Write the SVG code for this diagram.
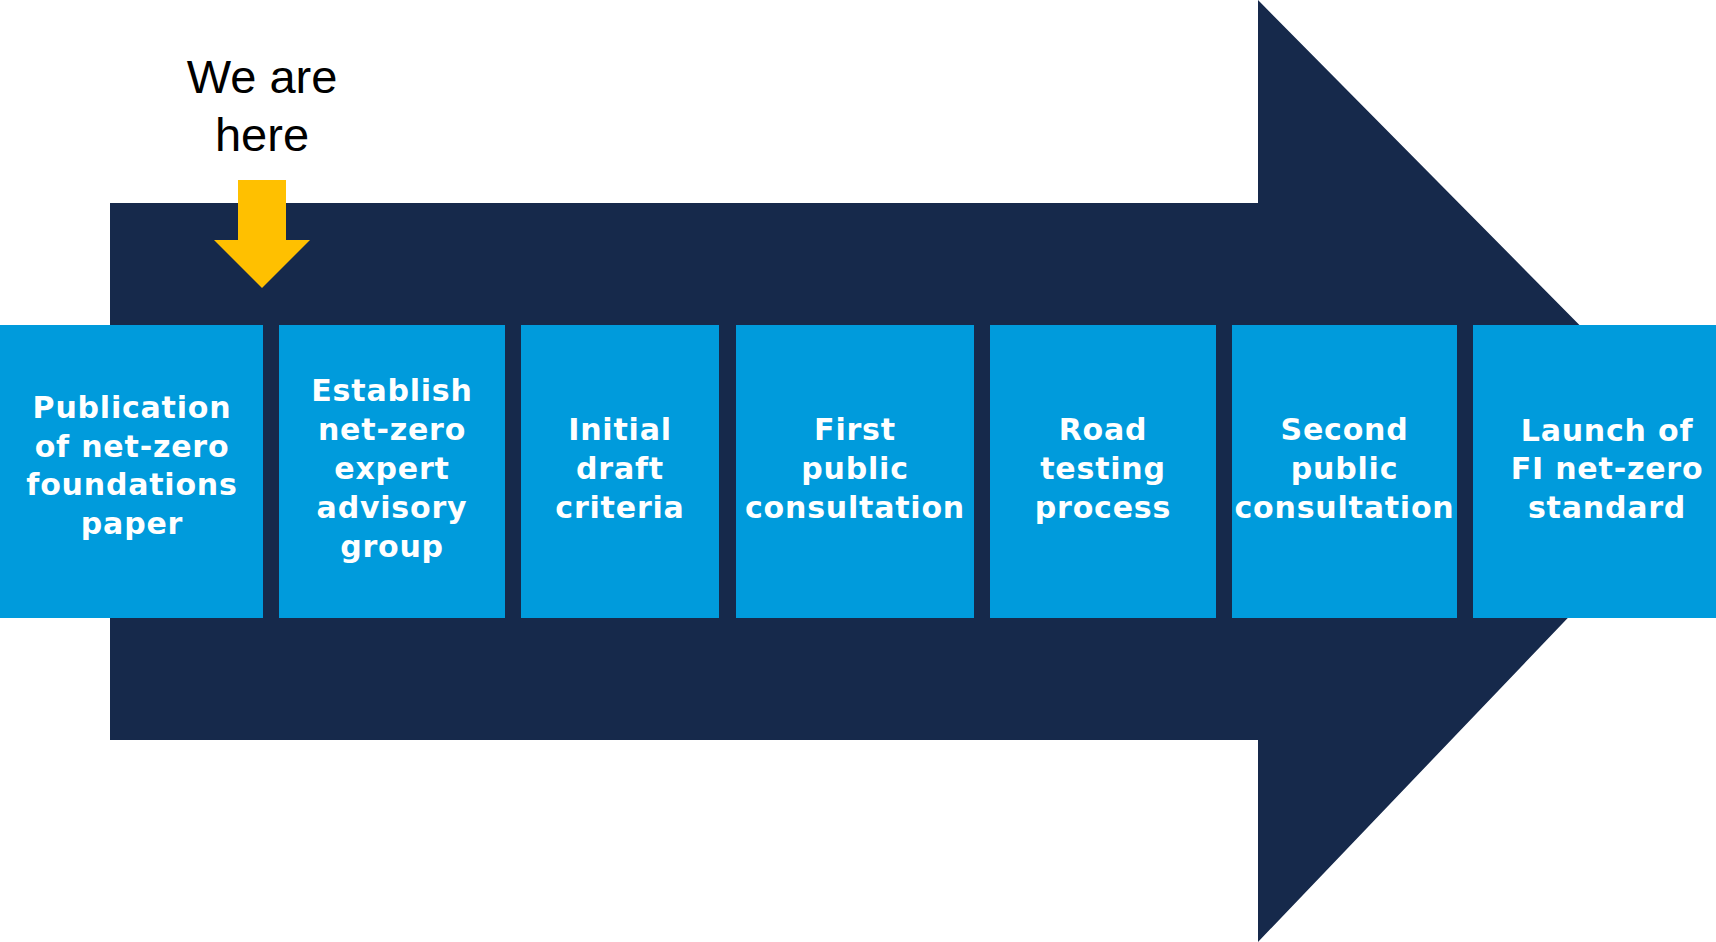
<svg xmlns="http://www.w3.org/2000/svg" width="1716" height="942" viewBox="0 0 1716 942">
  <style>
    .box { fill: #009bdc; }
    .lbl { font-family: "DejaVu Sans", "Liberation Sans", sans-serif; font-weight: bold; font-size: 30px; letter-spacing: 0.8px; fill: #ffffff; text-anchor: middle; }
    .note { font-family: "Liberation Sans", Arial, sans-serif; font-size: 47px; fill: #000000; text-anchor: middle; }
  </style>
  <rect x="0" y="0" width="1716" height="942" fill="#ffffff"/>
  <g id="big-arrow">
    <polygon points="110,203 1258,203 1258,0 1716,463 1258,942 1258,740 110,740" fill="#16294b"/>
  </g>
  <g id="marker-label">
    <text class="note" x="262" y="93">We are</text>
    <text class="note" x="262" y="151">here</text>
  </g>
  <g id="connectors">
    <polygon points="238,180 286,180 286,240 310,240 262,288 214,240 238,240" fill="#ffc000"/>
  </g>
  <g id="step1">
    <rect class="box" x="0" y="325" width="263" height="293"/>
    <text class="lbl" x="132" y="418">Publication</text>
    <text class="lbl" x="132" y="456.5">of net-zero</text>
    <text class="lbl" x="132" y="495">foundations</text>
    <text class="lbl" x="132" y="533.5">paper</text>
  </g>
  <g id="step2">
    <rect class="box" x="279" y="325" width="226" height="293"/>
    <text class="lbl" x="392" y="401">Establish</text>
    <text class="lbl" x="392" y="440">net-zero</text>
    <text class="lbl" x="392" y="479">expert</text>
    <text class="lbl" x="392" y="518">advisory</text>
    <text class="lbl" x="392" y="557">group</text>
  </g>
  <g id="step3">
    <rect class="box" x="521" y="325" width="198" height="293"/>
    <text class="lbl" x="620" y="440">Initial</text>
    <text class="lbl" x="620" y="479">draft</text>
    <text class="lbl" x="620" y="518">criteria</text>
  </g>
  <g id="step4">
    <rect class="box" x="736" y="325" width="238" height="293"/>
    <text class="lbl" x="855" y="440">First</text>
    <text class="lbl" x="855" y="479">public</text>
    <text class="lbl" x="855" y="518">consultation</text>
  </g>
  <g id="step5">
    <rect class="box" x="990" y="325" width="226" height="293"/>
    <text class="lbl" x="1103" y="440">Road</text>
    <text class="lbl" x="1103" y="479">testing</text>
    <text class="lbl" x="1103" y="518">process</text>
  </g>
  <g id="step6">
    <rect class="box" x="1232" y="325" width="225" height="293"/>
    <text class="lbl" x="1344.5" y="440">Second</text>
    <text class="lbl" x="1344.5" y="479">public</text>
    <text class="lbl" x="1344.5" y="518">consultation</text>
  </g>
  <g id="step7">
    <rect class="box" x="1473" y="325" width="243" height="293"/>
    <text class="lbl" x="1607" y="441">Launch of</text>
    <text class="lbl" x="1607" y="479">FI net-zero</text>
    <text class="lbl" x="1607" y="518">standard</text>
  </g>
</svg>
